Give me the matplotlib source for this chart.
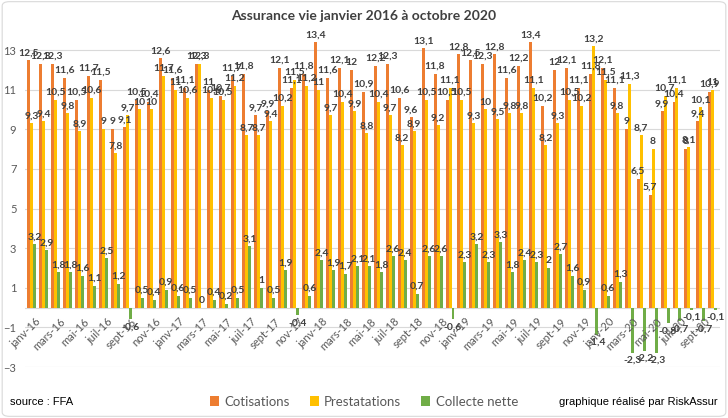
import numpy as np
import matplotlib.pyplot as plt
from matplotlib.patches import FancyBboxPatch

# mois janv-16 -> oct-20
mois = ['janv', 'févr', 'mars', 'avr', 'mai', 'juin', 'juil', 'août', 'sept', 'oct', 'nov', 'déc']
annees = ['16', '17', '18', '19', '20']
etiquettes = [m + '-' + a for a in annees for m in mois][:58]

cotisations = [12.5, 12.3, 12.3, 11.6, 10.5, 11.7, 11.5, 9, 9.1, 10.5, 10.4, 12.6,
               11.6, 11.1, 12.3, 11, 10.7, 11.7, 11.8, 9.7, 9.9, 12.1, 11.1, 11.8,
               13.4, 11.6, 12.1, 12, 10.9, 12.2, 12.3, 10.6, 9.6, 13.1, 11.8, 10.5,
               12.8, 12.5, 12.3, 12.8, 11.6, 12.2, 13.4, 10.2, 12, 12.1, 11.1, 11.8,
               12.1, 11.1, 9, 6.5, 5.7, 9.9, 10.4, 8, 9.4, 10.9]
prestations = [9.3, 9.4, 10.5, 9.8, 8.9, 10.6, 9, 7.8, 9.7, 10, 10, 11.7,
               11, 10.6, 12.3, 10.6, 10.5, 11.2, 8.7, 8.7, 9.4, 10.2, 11.5, 11.2,
               11, 9.7, 10.4, 9.9, 8.8, 10.4, 9.7, 8.2, 8.9, 10.5, 9.2, 11.1,
               10.5, 9.3, 10, 9.5, 9.8, 9.8, 11.1, 8.2, 9.3, 10.5, 10.2, 13.2,
               11.5, 9.8, 11.3, 8.7, 8, 10.7, 11.1, 8.1, 10.1, 11]
collecte = [3.2, 2.9, 1.8, 1.8, 1.6, 1.1, 2.5, 1.2, -0.6, 0.5, 0.4, 0.9,
            0.6, 0.5, 0, 0.4, 0.2, 0.5, 3.1, 1, 0.5, 1.9, -0.4, 0.6,
            2.4, 1.9, 1.7, 2.1, 2.1, 1.8, 2.6, 2.4, 0.7, 2.6, 2.6, -0.6,
            2.3, 3.2, 2.3, 3.3, 1.8, 2.4, 2.3, 2, 2.7, 1.6, 0.9, -1.4,
            0.6, 1.3, -2.3, -2.2, -2.3, -0.8, -0.7, -0.1, -0.7, -0.1]

series = [('Cotisations', cotisations, '#ED7D31'),
          ('Prestatations', prestations, '#FFC000'),
          ('Collecte nette', collecte, '#70AD47')]

plt.rcParams['font.family'] = ['Lato', 'DejaVu Sans']

fig = plt.figure(figsize=(7.28, 4.18), dpi=100)
ax = fig.add_axes([0.034, 0.122, 0.955, 0.782])

x = np.arange(len(etiquettes))
larg = 0.25
for k, (nom, vals, coul) in enumerate(series):
    pos = x + (k - 1) * larg
    ax.bar(pos, vals, larg, color=coul, label=nom, zorder=2)
    for xi, v in zip(pos, vals):
        txt = ('%g' % v).replace('.', ',')
        if v >= 0:
            ax.annotate(txt, (xi, v), xytext=(0, 2), textcoords='offset points',
                        ha='center', va='bottom', fontsize=7.5, fontweight='bold',
                        color='#404040', annotation_clip=False, zorder=3)
        else:
            ax.annotate(txt, (xi, v), xytext=(0, -2), textcoords='offset points',
                        ha='center', va='top', fontsize=7.5, fontweight='bold',
                        color='#404040', annotation_clip=False, zorder=3)

ax.set_xlim(-0.6, len(etiquettes) - 0.4)
ax.set_ylim(-3, 13.5)
ax.set_yticks(np.arange(-3, 14, 2))
ax.grid(axis='y', color='#D9D9D9', linewidth=0.8, zorder=0)
ax.axhline(0, color='#D9D9D9', linewidth=0.8, zorder=1)
ax.set_xticks([])
ax.tick_params(axis='y', length=0, labelsize=8, labelcolor='#595959', pad=6)
for s in ax.spines.values():
    s.set_visible(False)

# etiquettes de mois, une sur deux
for i in range(0, len(etiquettes), 2):
    ax.annotate(etiquettes[i], (i + 0.3, 0), xytext=(0, -6), textcoords='offset points',
                rotation=45, rotation_mode='anchor', ha='right', va='top',
                fontsize=8, color='#595959', annotation_clip=False)

fig.text(0.5, 0.962, 'Assurance vie janvier 2016 à octobre 2020', ha='center', va='center',
         fontsize=10, fontweight='bold', color='#404040')

ax.legend(loc='center', bbox_to_anchor=(0.5, 0.039), bbox_transform=fig.transFigure,
          ncol=3, frameon=False, fontsize=9.5, handlelength=0.7, handleheight=0.7,
          columnspacing=1.5, handletextpad=0.4, labelcolor='#595959')

fig.text(0.014, 0.039, 'source : FFA', ha='left', va='center', fontsize=8,
         family='Liberation Sans', color='black')
fig.text(0.986, 0.039, 'graphique réalisé par RiskAssur', ha='right', va='center',
         fontsize=8, family='Liberation Sans', color='black')

cadre = FancyBboxPatch((0.003, 0.004), 0.994, 0.992, boxstyle='round,pad=0,rounding_size=0.01',
                       transform=fig.transFigure, fill=False, edgecolor='#D9D9D9', linewidth=0.8)
fig.patches.append(cadre)

fig.savefig('out.png', dpi=100)
